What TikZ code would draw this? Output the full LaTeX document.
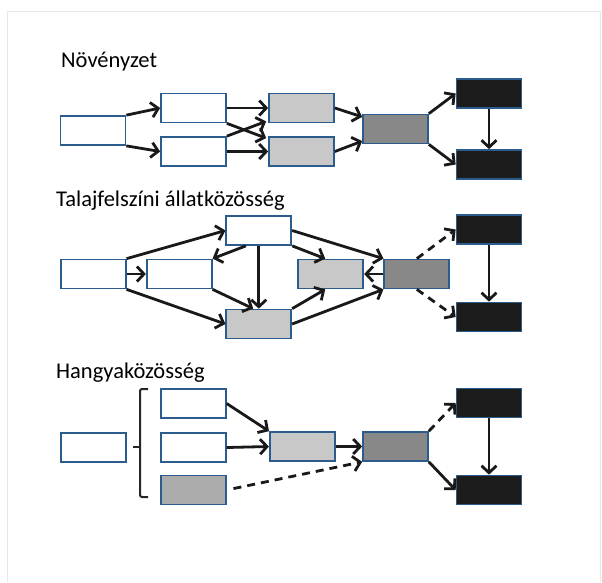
\documentclass[tikz,border=0pt]{standalone}
\usepackage{fontspec}
\setmainfont{Carlito}
\usetikzlibrary{arrows.meta}
\definecolor{boxblue}{RGB}{44,92,140}
\definecolor{lgray}{RGB}{200,200,200}
\definecolor{mgray}{RGB}{172,172,172}
\definecolor{dgray}{RGB}{136,136,136}
\definecolor{blk}{RGB}{28,28,28}
\definecolor{framecol}{RGB}{232,232,232}
\tikzset{
  box/.style={draw=boxblue, line width=1.7pt, minimum width=65pt, minimum height=29pt, inner sep=0pt, fill=white},
  wbox/.style={box, fill=white},
  lbox/.style={box, fill=lgray},
  mbox/.style={box, fill=mgray},
  dbox/.style={box, fill=dgray},
  kbox/.style={box, fill=blk},
  arr/.style={line width=2.8pt, draw=black!90, -{Straight Barb[length=7pt,width=15pt]}},
  darr/.style={arr, dash pattern=on 8pt off 6pt},
  title/.style={anchor=base west, inner sep=0pt, font=\fontsize{22.5}{25}\selectfont}
}
\begin{document}
\begin{tikzpicture}[x=1pt,y=-1pt]
\useasboundingbox (0,0) rectangle (602,582);
\draw[framecol, line width=1pt] (7,582) -- (7,11) -- (600,11) -- (600,582);

% Panel 1
\node[title] (t1) at (61,67) {Növényzet};
\node[wbox] (a1) at (93,130.5) {};
\node[wbox] (b1) at (193.5,108) {};
\node[wbox] (c1) at (193.5,151.5) {};
\node[lbox] (d1) at (301.5,108) {};
\node[lbox] (e1) at (301.5,151.5) {};
\node[dbox] (f1) at (395.5,129) {};
\node[kbox] (g1) at (489,93.5) {};
\node[kbox] (h1) at (489,164.5) {};
\draw[arr] (a1.north east) -- (b1.west);
\draw[arr] (a1.south east) -- (c1.west);
\draw[arr] (b1.east) -- (d1.west);
\draw[arr] (c1.east) -- (e1.west);
\draw[arr] (b1.south east) -- ([xshift=-2pt,yshift=-2pt]e1.north west);
\draw[arr] (c1.north east) -- ([xshift=-2pt,yshift=2pt]d1.south west);
\draw[arr] (d1.east) -- (f1.160);
\draw[arr] (e1.east) -- (f1.200);
\draw[arr] (f1.north east) -- (g1.west);
\draw[arr] (f1.south east) -- (h1.west);
\draw[arr] (g1.south) -- (h1.north);

% Panel 2
\node[title] (t2) at (56,206) {Talajfelszíni állatközösség};
\node[wbox] (a2) at (93.2,274) {};
\node[wbox] (b2) at (179.2,274) {};
\node[wbox] (c2) at (258.8,230.5) {};
\node[lbox] (d2) at (258.8,324) {};
\node[lbox] (e2) at (330.8,274) {};
\node[dbox] (f2) at (416.8,274) {};
\node[kbox] (g2) at (489,229.5) {};
\node[kbox] (h2) at (489,317) {};
\draw[arr] (a2.north east) -- (c2.west);
\draw[arr] (a2.east) -- (b2.west);
\draw[arr] (a2.south east) -- (d2.west);
\draw[arr] (c2.230) -- (b2.north east);
\draw[arr] (c2.south) -- (d2.north);
\draw[arr] (b2.south east) -- (d2.110);
\draw[arr] (c2.south east) -- (e2.110);
\draw[arr] (c2.east) -- (f2.north west);
\draw[arr] (d2.north east) -- (e2.250);
\draw[arr] (d2.east) -- (f2.south west);
\draw[arr] (f2.west) -- (e2.east);
\draw[darr] (f2.north) -- (g2.west);
\draw[darr] (f2.south) -- (h2.west);
\draw[arr] (g2.south) -- (h2.north);

% Panel 3
\node[title] (t3) at (56,378) {Hangyaközösség};
\node[wbox] (a3) at (93.3,447.5) {};
\node[wbox] (b3) at (193.3,403.5) {};
\node[wbox] (c3) at (193.3,447.5) {};
\node[mbox] (d3) at (193.3,490) {};
\node[lbox] (e3) at (302.3,446.5) {};
\node[dbox] (f3) at (395.5,446.5) {};
\node[kbox] (g3) at (489,403) {};
\node[kbox] (h3) at (489,490) {};
\draw[line width=2pt, draw=black!85, rounded corners=2pt] (148,389) -- (140,389) -- (140,497) -- (148,497);
\draw[line width=2pt, draw=black!85] (133,447) -- (140,447);
\draw[arr] (b3.east) -- (e3.north west);
\draw[arr] (c3.east) -- (e3.west);
\draw[darr, shorten <=7pt] (d3.east) -- (f3.south west);
\draw[arr] (e3.east) -- (f3.west);
\draw[darr] (f3.north east) -- (g3.west);
\draw[arr] (f3.south east) -- (h3.west);
\draw[arr] (g3.south) -- (h3.north);
\end{tikzpicture}
\end{document}
